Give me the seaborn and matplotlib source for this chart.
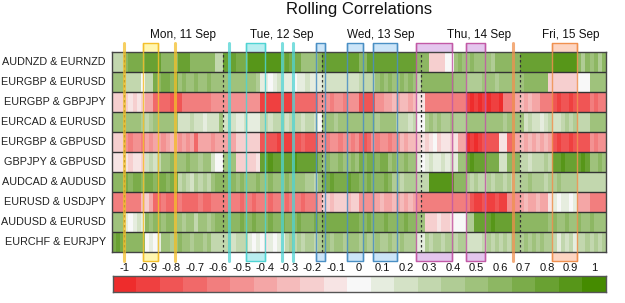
import numpy as np
import pandas as pd
import seaborn as sns
import matplotlib.pyplot as plt
from matplotlib.colors import ListedColormap, to_rgb

sns.set_style('white')
plt.rcParams['font.family'] = ['Liberation Sans', 'DejaVu Sans']

# pares (linhas do heatmap)
pares = ['AUDNZD & EURNZD', 'EURGBP & EURUSD', 'EURGBP & GBPJPY', 'EURCAD & EURUSD',
         'EURGBP & GBPUSD', 'GBPJPY & GBPUSD', 'AUDCAD & AUDUSD', 'EURUSD & USDJPY',
         'AUDUSD & EURUSD', 'EURCHF & EURJPY']

# correlacao horaria em decimos, de dom 21:00 ate sex 21:00 (120 horas)
inicio = pd.Timestamp('2023-09-10 21:00')

c_audnzd_eurnzd = [3, 3, 3,
    6, 7, 7, 7, 7, 8, 8, 8, 8, 6, 6, 6, 6, 8, 8, 8, 6, 6, 6, 6, 6, 6, 3, 3,
    8, 8, 8, 7, 7, 7, 9, 9, 9, 9, 9, 9, 9, 9, 7, 8, 7, 7, 7, 5, 5, 5, 5, 6,
    8, 8, 8, 8, 8, 8, 8, 8, 8, 6, 6, 8, 8, 8, 8, 8, 8, 8, 8, 8, 8, 8, 8, 6,
    6, 6, -2, -2, -2, -2, 0, 0, 5, 6, 5, 5, 6, 5, 5, 5, 5, 4, 6, 6, 6, 6, 6, 6,
    8, 8, 8, 8, 8, 8, 8, 8, 9, 9, 9, 9, 9, 9, 6, 4, 6, 5, 6, 4, 6]
c_eurgbp_eurusd = [5, 5, 5,
    3, 3, 3, 3, 0, 3, 3, 7, 6, 7, 7, 6, 7, 5, 6, 5, 5, 6, 5, 5, 6, 5, 5, 5,
    5, 5, 5, 5, 5, 5, 5, 5, 4, 1, 1, 0, 1, 2, 1, 1, 1, 0, 1, 1, 2, 1, 1, 1,
    2, 2, 2, 2, 2, 2, 2, 2, 2, 3, 3, 3, 3, 5, 6, 5, 6, 5, 5, 6, 5, 6, 5, 3,
    6, 6, 6, 6, 6, 6, 6, 6, 5, 5, 5, 4, 4, 4, 4, 5, 5, 5, 4, 5, 5, 5, 5, 5,
    5, 6, 6, 6, 6, 6, 6, -2, -2, -2, -2, -2, -2, -2, 0, 0, 0, 5, 5, 5, 5]
c_eurgbp_gbpjpy = [-2, -2, -2,
    -2, -1, -2, -1, -2, -4, -4, -7, -7, -7, -7, -8, -8, -8, -6, -6, -6, -6, -6, -6, -6, -5, -5, -5,
    -5, -5, -5, -5, -5, -5, -5, -5, -5, -9, -9, -9, -9, -9, -9, -9, -9, -7, -7, -7, -7, -7, -7, -5,
    -5, -5, -6, -5, -5, -6, -5, -5, -5, -8, -8, -8, -8, -5, -5, -4, -4, -3, -4, -3, -3, -4, -3, -1,
    -1, -6, -6, -6, -6, -6, -6, -6, -6, -6, -6, -9, -10, -9, -10, -9, -10, -9, -9, -10, -6, -6, -6, -4,
    -3, -4, -3, -4, -4, -6, -6, -6, -8, -9, -8, -8, -9, -8, -8, -8, -8, -6, -7, -6, -6]
c_eurcad_eurusd = [5, 5, 5,
    5, 5, 5, 5, 4, 3, 4, 5, 5, 5, 5, 5, 5, 2, 2, 2, 3, 2, 2, 1, 2, 2, 2, 5,
    2, 2, 2, 1, 1, 2, 1, 1, 1, 3, 3, 2, 3, 3, 3, 2, 3, 3, 3, 2, 3, 3, 2, 0,
    5, 5, 5, 4, 5, 5, 5, 5, 5, 5, 5, 5, 5, 4, 5, 5, 5, 5, 3, 3, 3, 2, 3, 0,
    0, 4, 5, 4, 5, 4, 4, 5, 4, 4, 4, 5, 5, 5, 5, 5, 5, 5, 5, 5, 4, 5, 5, 5,
    5, 2, 3, 2, 2, 1, 2, 3, 2, 2, 3, 4, 3, 4, 3, 3, 3, 5, 5, 5, 5]
c_eurgbp_gbpusd = [-2, -2, -2,
    -5, -6, -5, -5, -6, -4, -5, -4, -4, -5, -4, -3, -4, -5, -4, -5, -4, -7, -4, -4, -4, -5, -4, -4,
    -4, -4, -4, -2, -2, -2, -2, -2, -2, -8, -8, -8, -8, -9, -9, -9, -9, -8, -8, -7, -8, -8, -8, -5,
    -5, -6, -5, -5, -6, -5, -5, -6, -5, -7, -8, -7, -5, -6, -5, -5, -6, -5, -5, -3, -4, -3, -3, -2,
    -1, -2, -1, 0, -2, -1, -1, -2, -1, -4, -4, -10, -9, -10, -9, -8, -8, -8, -8, -1, -1, -7, -7, -4,
    -3, -4, -3, -4, -3, -4, -3, -4, -8, -9, -8, -8, -9, -8, -8, -8, -8, -5, -6, -5, -5]
c_gbpjpy_gbpusd = [-1, -1, -1,
    -1, -2, -1, -1, -2, 2, 3, 2, 3, 5, 5, 6, 5, 5, 5, 6, 5, 5, 4, 5, 5, 2, 0, 0,
    5, 5, 5, -2, -2, -2, -2, -2, -1, 8, 8, 9, 8, 8, 8, 8, 8, 9, 8, 8, 8, 8, 8, 6,
    5, 6, 5, 5, 6, 5, 5, 6, 5, 7, 6, 7, 7, 6, 7, 7, 5, 6, 5, 5, 6, 5, 5, 1,
    0, 1, 2, 1, 1, 2, 1, 2, 1, 5, 5, 8, 9, 8, 8, 8, 7, 7, 7, 2, 2, 6, 6, 6,
    3, 3, 2, 3, 3, 3, 4, 3, 8, 8, 9, 8, 8, 8, 8, 9, 8, 5, 5, 6, 5]
c_audcad_audusd = [6, 6, 6,
    7, 6, 7, 7, 6, 7, 7, 6, 7, 7, 6, 7, 7, 3, 4, 3, 2, 4, 3, 4, 3, 5, 6, 6,
    6, 6, 6, 5, 6, 5, 5, 5, 6, 5, 5, 6, 5, 5, 5, 6, 5, 5, 5, 5, 4, 4, 3, 5,
    7, 7, 8, 7, 7, 7, 8, 7, 7, 6, 6, 7, 6, 6, 6, 7, 6, 4, 4, 3, 4, 4, 4, 3,
    3, 3, 9, 9, 9, 9, 9, 9, 6, 6, 6, 4, 3, 4, 3, 3, 4, 3, 4, 4, 3, 4, 3, 4,
    4, 4, 5, 4, 4, 4, 3, 4, 4, 5, 4, 4, 4, 4, 3, 3, 3, 3, 3, 3, 3]
c_eurusd_usdjpy = [-6, -6, -6,
    -6, -6, -6, -6, -3, -2, -4, -7, -7, -6, -7, -7, -7, -6, -7, -7, -7, -7, -6, -7, -7, -6, -6, -6,
    -6, -6, -6, -6, -7, -6, -6, -7, -6, -6, -6, -7, -6, -6, -6, -7, -6, -6, -6, -7, -6, -6, -6, -4,
    -2, -2, -3, -2, -2, -2, -3, -2, -2, -5, -5, -5, -5, -4, -3, -4, -4, -3, -4, -3, -4, -3, -4, -5,
    -6, -6, -6, -6, -6, -6, -6, -6, -6, -6, -6, -6, -8, -9, -9, -8, -9, -9, -8, -9, -9, -5, -5, -5,
    -4, -3, -4, -4, -3, -4, -4, -1, 1, 0, 1, 1, 0, 1, -4, -4, -4, -6, -6, -6, -6]
c_audusd_eurusd = [5, 5, 5,
    1, 0, 1, 2, 1, 6, 5, 6, 6, 5, 6, 6, 5, 5, 4, 5, 5, 3, 5, 5, 4, 5, 6, 6,
    6, 6, 6, 6, 7, 6, 6, 7, 6, 6, 6, 7, 6, 6, 7, 6, 6, 6, 7, 6, 6, 6, 7, 6,
    7, 7, 7, 7, 7, 7, 7, 7, 7, 6, 6, 7, 6, 6, 6, 7, 6, 6, 6, 6, 7, 6, 6, 5,
    5, -2, -2, -2, -1, -2, -2, -1, 0, 0, 0, 4, 4, 8, 8, 8, 8, 9, 8, 8, 8, 8, 8, 7,
    6, 6, 6, 6, 6, 6, 6, 5, 6, 5, 5, 6, 5, 5, 6, 5, 5, 6, 5, 5, 5]
c_eurchf_eurjpy = [7, 8, 7,
    6, 6, 6, 6, 6, 0, 1, 0, 1, 5, 5, 4, 5, 6, 5, 5, 4, 5, 5, 4, 5, 3, 3, 3,
    3, 3, 2, 3, 3, 3, 1, 0, 1, 0, -1, 1, 0, 1, 1, 3, 4, 3, 4, 3, 4, 4, 3, 4,
    5, 5, 4, 5, 5, 4, 5, 5, 5, 4, 5, 4, 4, 5, 4, 4, 5, 4, 4, 5, 4, 4, 4, 1,
    1, 4, 3, 4, 4, 3, 4, 4, 3, 4, 4, 2, 2, 2, 2, 3, 4, 3, 4, 3, 4, 3, 4, 5,
    4, 5, 4, 5, 4, 5, 4, 4, 3, 1, 3, 2, 3, 1, 3, 3, 4, 3, 4, 3, 4]

# dias (inicio do dia e posicao do rotulo)
dias = ['2023-09-11', '2023-09-12', '2023-09-13', '2023-09-14', '2023-09-15']
pos_rotulos = ['2023-09-11 14:15', '2023-09-12 14:15', '2023-09-13 14:15',
               '2023-09-14 14:15', '2023-09-15 12:30']
rotulos_dias = ['Mon, 11 Sep', 'Tue, 12 Sep', 'Wed, 13 Sep', 'Thu, 14 Sep', 'Fri, 15 Sep']

# eventos do calendario
ev_inicio = ['2023-09-11 00:00', '2023-09-11 04:30', '2023-09-11 12:15',
             '2023-09-12 01:30', '2023-09-12 05:30', '2023-09-12 14:15', '2023-09-12 17:00',
             '2023-09-12 22:30', '2023-09-13 06:00', '2023-09-13 12:20',
             '2023-09-13 22:55', '2023-09-14 10:55',
             '2023-09-14 22:20', '2023-09-15 07:50']
ev_fim = ['2023-09-11 00:00', '2023-09-11 08:15', '2023-09-11 12:15',
          '2023-09-12 01:30', '2023-09-12 10:15', '2023-09-12 14:15', '2023-09-12 17:00',
          '2023-09-13 00:50', '2023-09-13 10:00', '2023-09-13 18:10',
          '2023-09-14 07:40', '2023-09-14 15:40',
          '2023-09-14 22:20', '2023-09-15 14:00']
ev_grupo = ['mon', 'mon', 'mon', 'tue', 'tue', 'tue', 'tue',
            'wed', 'wed', 'wed', 'thu', 'thu', 'fri', 'fri']

# escala de cores
escala = ['-1', '-0.9', '-0.8', '-0.7', '-0.6', '-0.5', '-0.4', '-0.3', '-0.2', '-0.1', '0',
          '0.1', '0.2', '0.3', '0.4', '0.5', '0.6', '0.7', '0.8', '0.9', '1']

borda = {'mon': '#f4c02c', 'tue': '#4fd3d3', 'wed': '#4a8fc4', 'thu': '#c259a6', 'fri': '#f0914f'}
preench = {'mon': '#fff6b0', 'tue': '#b9eef0', 'wed': '#cce5f8', 'thu': '#e4c6ee', 'fri': '#fdd5c2'}

vermelho, branco, verde = np.array(to_rgb('#ee2c2c')), np.array(to_rgb('#f8f8f8')), np.array(to_rgb('#458b00'))
cores = [vermelho + (branco - vermelho) * i / 10 for i in range(10)] + \
        [branco + (verde - branco) * i / 10 for i in range(11)]
cmap = ListedColormap(cores)

linhas = [c_audnzd_eurnzd, c_eurgbp_eurusd, c_eurgbp_gbpjpy, c_eurcad_eurusd, c_eurgbp_gbpusd,
          c_gbpjpy_gbpusd, c_audcad_audusd, c_eurusd_usdjpy, c_audusd_eurusd, c_eurchf_eurjpy]
for nome, l in zip(pares, linhas):
    assert len(l) == 120, (nome, len(l))
horas = pd.date_range(inicio, periods=120, freq='h')
df = pd.DataFrame(np.array(linhas) / 10, index=pares, columns=horas)


def pos(t):
    return (pd.to_datetime(t) - inicio) / pd.Timedelta(hours=1)


fig = plt.figure(figsize=(6.25, 3.03), dpi=100)
ax = fig.add_axes([0.1792, 0.1693, 0.7904, 0.658])
cax = fig.add_axes([0.1803, 0.0363, 0.7888, 0.0528])

sns.heatmap(df, ax=ax, cmap=cmap, vmin=-1.05, vmax=1.05, cbar=False,
            xticklabels=False, yticklabels=pares)
ax.tick_params(axis='y', length=0, pad=4.5, labelsize=7.8, labelcolor='#222222')
ax.set_yticklabels(pares, rotation=0)
ax.set_xlabel('')
ax.set_ylabel('')
for i in range(1, len(pares)):
    ax.axhline(i, color='#333333', lw=1, zorder=2)
for s in ax.spines.values():
    s.set_visible(True)
    s.set_color('#444444')
    s.set_linewidth(1)

# separadores dos dias e rotulos
for d, p, r in zip(dias, pos_rotulos, rotulos_dias):
    ax.axvline(pos(d), color='#333333', lw=0.9, ls=(0, (2, 2)), zorder=2)
    ax.text(pos(p), 1.089, r, transform=ax.get_xaxis_transform(), ha='center', va='center',
            fontsize=8.5, color='#111111')

# eventos
ext = 0.045
for a, b, g in zip(ev_inicio, ev_fim, ev_grupo):
    x0, x1 = pos(a), pos(b)
    if x1 > x0:
        ax.axvspan(x0, x1, ymin=-ext, ymax=1 + ext, facecolor=preench[g], edgecolor=borda[g],
                   lw=1, zorder=0.5, clip_on=False)
        for x in (x0, x1):
            ax.axvline(x, ymin=-ext, ymax=1 + ext, color=borda[g], lw=1, alpha=0.85,
                       zorder=3, clip_on=False)
    else:
        ax.axvline(x0, ymin=-ext, ymax=1 + ext, color=borda[g], lw=2.2, alpha=0.75,
                   zorder=3, clip_on=False)

# barra de cores
valores = np.array([[float(v) for v in escala]])
sns.heatmap(valores, ax=cax, cmap=cmap, vmin=-1.05, vmax=1.05, cbar=False,
            xticklabels=escala, yticklabels=False)
cax.xaxis.tick_top()
cax.tick_params(axis='x', length=0, pad=2.5, labelsize=8, labelcolor='#111111')
cax.set_xticklabels(escala, rotation=0)
for s in cax.spines.values():
    s.set_visible(True)
    s.set_color('#555555')
    s.set_linewidth(1)

fig.text(0.5744, 0.954, 'Rolling Correlations', ha='center', va='baseline', fontsize=12,
         color='#111111')

fig.savefig('out.png', dpi=100)
